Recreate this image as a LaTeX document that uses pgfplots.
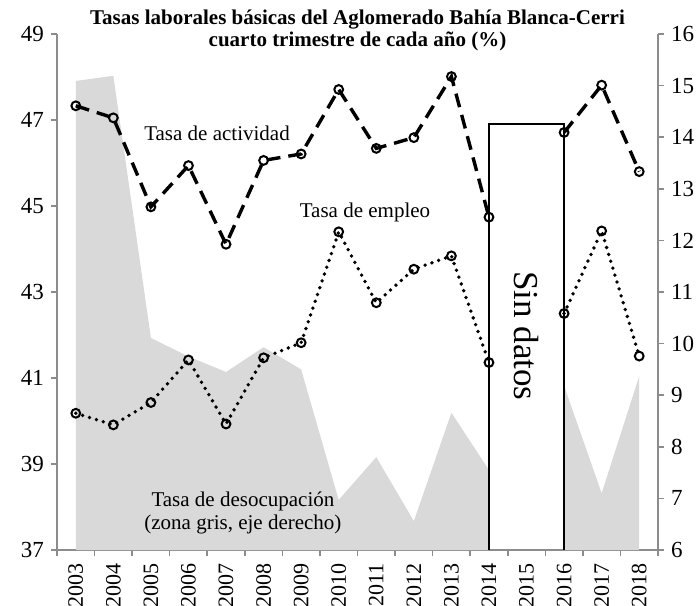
\documentclass[border=0pt]{standalone}
\usepackage{fontspec}
\setmainfont{Liberation Serif}
\usepackage{pgfplots}
\pgfplotsset{compat=1.18}

\definecolor{areagray}{HTML}{D9D9D9}
\definecolor{axisgray}{HTML}{8C8C8C}

\begin{document}
\begin{tikzpicture}
\useasboundingbox (-28.5pt,-27.5pt) rectangle (321.5pt,275pt);
\pgfplotsset{
  base/.style={
    scale only axis, width=300.5pt, height=258pt,
    xmin=-0.5, xmax=15.5,
    axis line style={axisgray, line width=0.8pt},
    tick style={axisgray, line width=0.8pt},
    tick align=outside, major tick length=3pt,
    /pgf/number format/assume math mode=true,
    ticklabel style={font=\fontsize{11.5}{12}\selectfont},
  },
}

% desocupacion: zona gris, eje derecho
\begin{axis}[base,
    axis y line*=right, axis x line*=bottom,
    ymin=6, ymax=16, ytick={6,...,16},
    xtick={-0.5,0.5,...,15.5},
    x tick label as interval,
    xticklabels={2003,2004,2005,2006,2007,2008,2009,2010,2011,2012,2013,2014,2015,2016,2017,2018},
    xticklabel style={rotate=90, anchor=east, font=\fontsize{11}{12}\selectfont},
]
\addplot[fill=areagray, draw=none] coordinates {
  (0,15.09) (1,15.19) (2,10.11) (3,9.75) (4,9.45) (5,9.93)
  (6,9.5) (7,6.97) (8,7.8) (9,6.56) (10,8.66) (11,7.55)
} \closedcycle;
\addplot[fill=areagray, draw=none] coordinates {
  (13,9.18) (14,7.1) (15,9.37)
} \closedcycle;
\end{axis}

% actividad y empleo, eje izquierdo
\begin{axis}[base,
    axis y line*=left, axis x line=none,
    ymin=37, ymax=49, ytick={37,39,...,49},
    clip=false, unbounded coords=jump,
]
\addplot[black, line width=1.2pt, mark=none] coordinates {
  (11,37) (11,46.9) (13,46.9) (13,37)
};
\addplot[black, line width=1.7pt, dash pattern=on 7pt off 4pt,
    mark=o, mark size=2.2pt,
    mark options={solid, fill=white, line width=1pt}] coordinates {
  (0,47.33) (1,47.05) (2,44.98) (3,45.94) (4,44.11) (5,46.06)
  (6,46.21) (7,47.71) (8,46.34) (9,46.59) (10,48.01) (11,44.74)
  (12,nan) (13,46.71) (14,47.81) (15,45.8)
};
\addplot[black, line width=1.9pt, line cap=round, dash pattern=on 0pt off 3.6pt,
    mark=o, mark size=2.2pt,
    mark options={solid, fill=white, line width=1pt}] coordinates {
  (0,40.18) (1,39.91) (2,40.43) (3,41.42) (4,39.93) (5,41.47)
  (6,41.82) (7,44.4) (8,42.75) (9,43.53) (10,43.84) (11,41.36)
  (12,nan) (13,42.5) (14,44.42) (15,41.51)
};
\node[align=center, font=\bfseries\fontsize{10.5}{11}\selectfont]
  at (rel axis cs:0.5,1) [yshift=2pt]
  {Tasas laborales básicas del Aglomerado Bahía Blanca-Cerri\\cuarto trimestre de cada año (\%)};
\node[font=\fontsize{10.5}{12}\selectfont] at (axis cs:3.76,46.7) {Tasa de actividad};
\node[font=\fontsize{10.5}{12}\selectfont] at (axis cs:7.7,44.86) {Tasa de empleo};
\node[font=\fontsize{10.5}{11.5}\selectfont, align=center] at (axis cs:4.45,37.85)
  {Tasa de desocupación\\(zona gris, eje derecho)};
\node[rotate=-90, font=\fontsize{17.5}{20}\selectfont] at (axis cs:12,41.98) {Sin datos};
\end{axis}
\end{tikzpicture}
\end{document}
